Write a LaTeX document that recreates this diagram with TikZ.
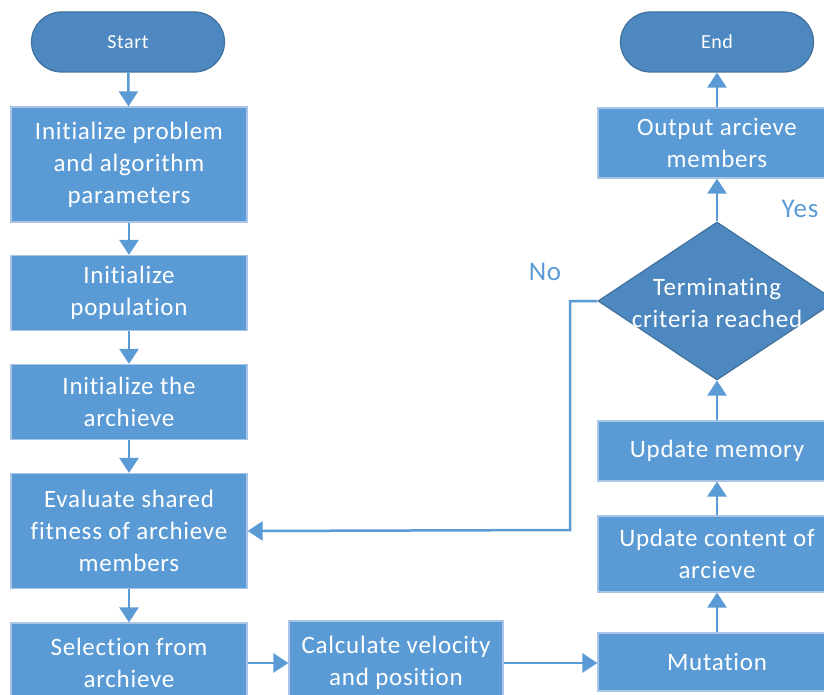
\documentclass[tikz,border=0pt]{standalone}
\usepackage{fontspec}
\setmainfont[LetterSpace=3,Ligatures=NoCommon]{Carlito}
\usetikzlibrary{shapes.geometric,arrows.meta}

\definecolor{boxblue}{HTML}{5B9BD5}
\definecolor{boxedge}{HTML}{A9C4E4}
\definecolor{termblue}{HTML}{4E88C0}
\definecolor{termedge}{HTML}{41719C}

\tikzset{
    box/.style={rectangle, fill=boxblue, draw=boxedge, line width=1.2pt,
        text=white, align=center, font=\fontsize{25}{32}\selectfont,
        minimum width=236pt},
    term/.style={rectangle, rounded corners=30pt, fill=termblue, draw=termedge,
        line width=1.2pt, text=white, font=\fontsize{20}{24}\selectfont,
        minimum width=193pt, minimum height=60pt},
    flow/.style={draw=boxblue, line width=2.5pt, -{Triangle[width=19pt,length=15pt]}},
    lbl/.style={text=boxblue, font=\fontsize{27}{30}\selectfont}
}

\begin{document}
\begin{tikzpicture}[x=1pt,y=-1pt]
    \useasboundingbox (0,0) rectangle (824,695);
    % left column
    \node[term] (start) at (128,42) {Start};
    \node[box, minimum height=115pt] (init) at (129,164.5) {Initialize problem\\and algorithm\\parameters};
    \node[box, minimum height=75pt] (pop) at (129,293) {Initialize\\population};
    \node[box, minimum height=75pt] (arch) at (129,402) {Initialize the\\archieve};
    \node[box, minimum height=115pt] (eval) at (129,531) {Evaluate shared\\fitness of archieve\\members};
    \node[box, minimum height=80pt] (sel) at (129,663) {Selection from\\archieve};
    % bottom row
    \node[box, minimum width=214pt, minimum height=84pt] (calc) at (396,663) {Calculate velocity\\and position};
    \node[box, minimum width=238pt, minimum height=58pt] (mut) at (717,662) {Mutation};
    % right column
    \node[box, minimum width=238pt, minimum height=76pt] (upc) at (717,554) {Update content of\\arcieve};
    \node[box, minimum width=238pt, minimum height=60pt] (upm) at (717,451) {Update memory};
    \node[diamond, fill=termblue, draw=termedge, line width=1.2pt,
        minimum width=238pt, minimum height=158pt, inner sep=0pt] (crit) at (717,301) {};
    \node[text=white, align=center, font=\fontsize{25}{32}\selectfont] (crittxt) at (717,303) {Terminating\\criteria reached};
    \node[box, minimum width=238pt, minimum height=70pt] (out) at (717,143) {Output arcieve\\members};
    \node[term] (end) at (717,42) {End};
    % labels
    \node[lbl] (no) at (545,272) {No};
    \node[lbl] (yes) at (800,209) {Yes};
    % connectors
    \draw[flow] (start) -- (init);
    \draw[flow] (init) -- (pop);
    \draw[flow] (pop) -- (arch);
    \draw[flow] (arch) -- (eval);
    \draw[flow] (eval) -- (sel);
    \draw[flow] (sel.east |- calc) -- (calc);
    \draw[flow] (calc) -- (calc -| mut.west);
    \draw[flow] (mut) -- (upc);
    \draw[flow] (upc) -- (upm);
    \draw[flow] (upm) -- (crit.south);
    \draw[flow] (crit.north) -- (out);
    \draw[flow] (out) -- (end);
    \coordinate (bend) at (570,530);
    \draw[flow] (crit.west) -| (bend) -- (eval.east);
\end{tikzpicture}
\end{document}
